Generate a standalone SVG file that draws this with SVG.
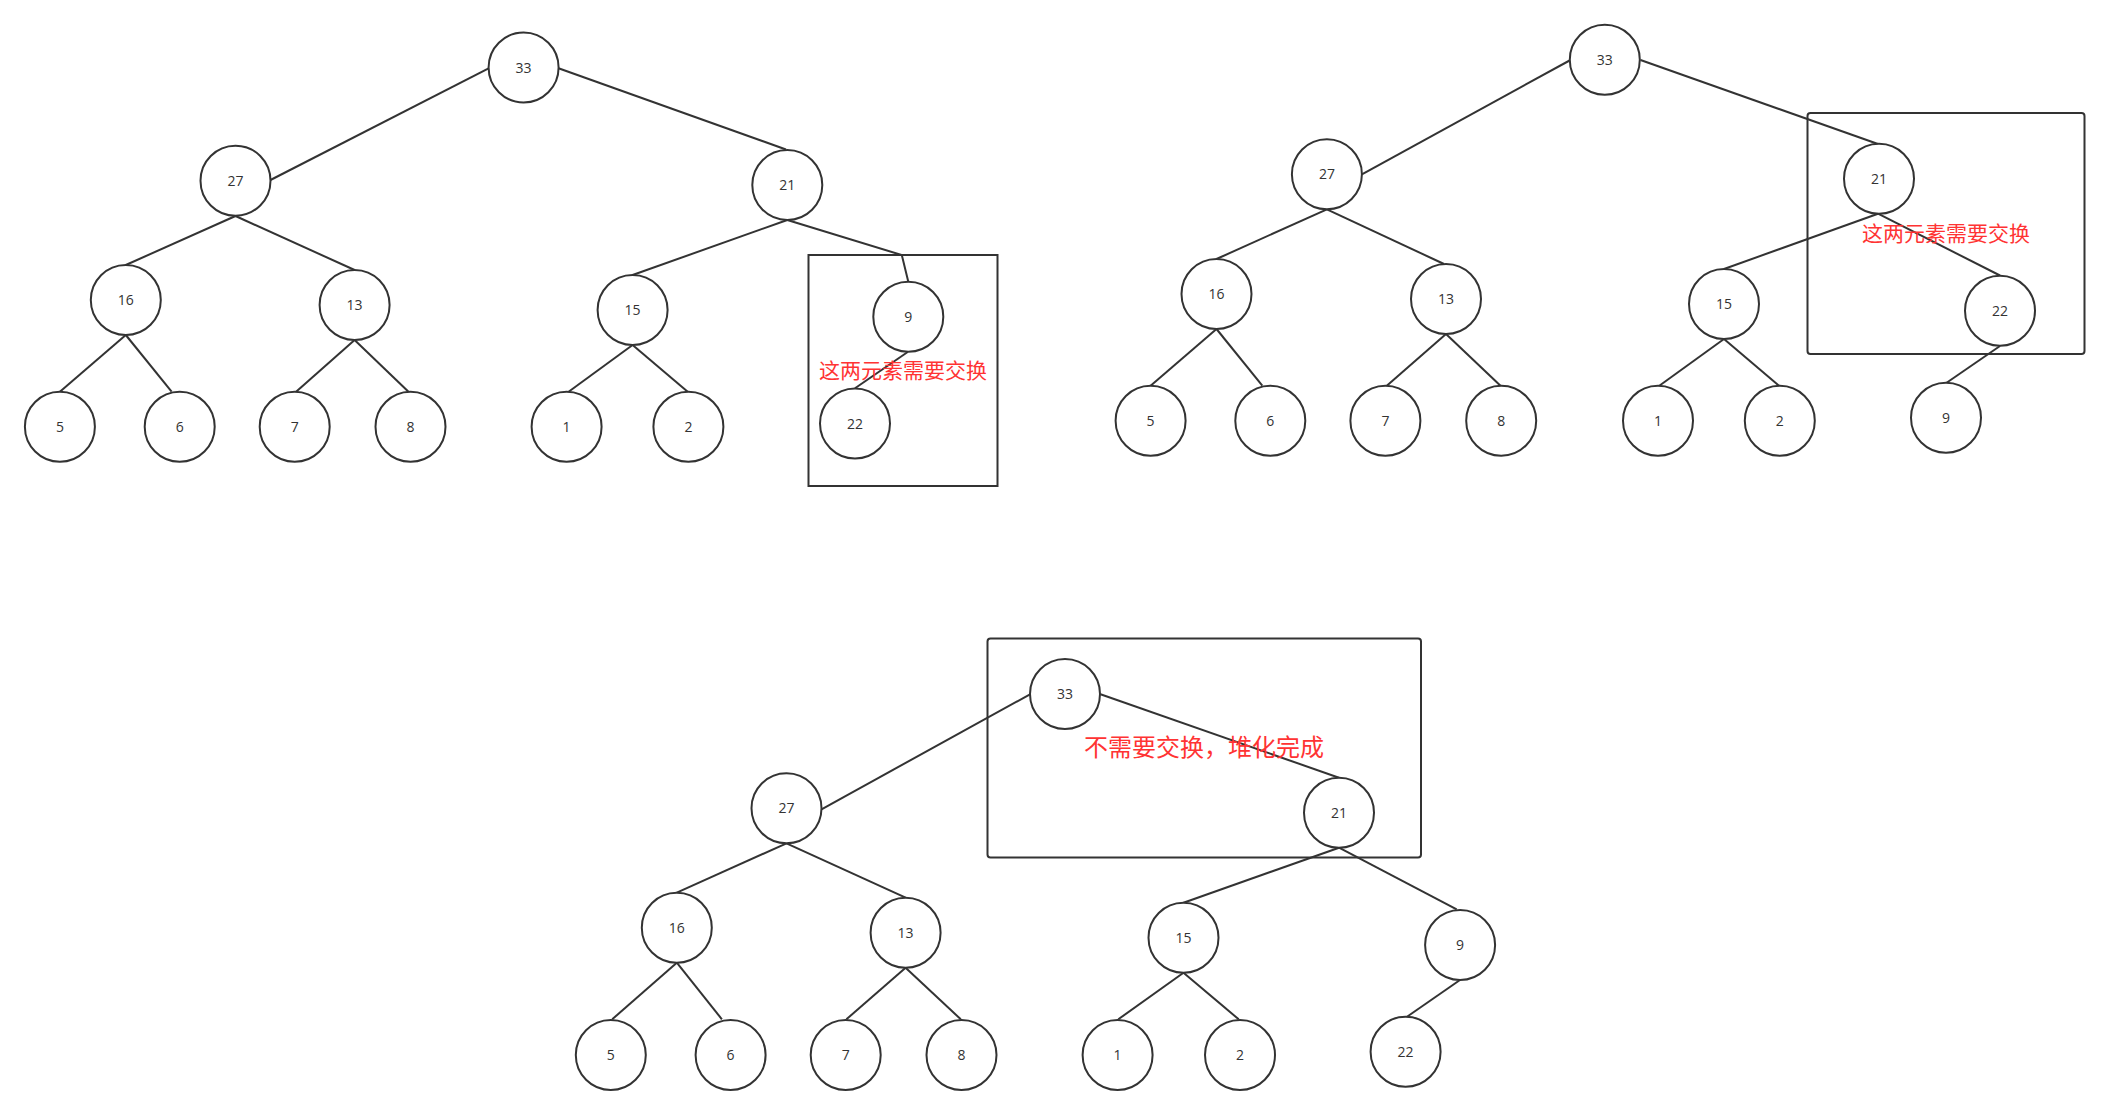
<svg xmlns="http://www.w3.org/2000/svg" width="2110" height="1115" viewBox="0 0 2110 1115">
<style>
.n circle{fill:#fff;stroke:#333;stroke-width:2}
.n text{font-family:"Open Sans","Noto Sans","Liberation Sans",sans-serif;font-size:14px;fill:#333;text-anchor:middle}
.e line,.e polyline{stroke:#333;stroke-width:2;fill:none}
.box{fill:none;stroke:#333;stroke-width:2}
.lbl{font-family:"Noto Sans CJK SC","Noto Sans",sans-serif;fill:#ff3333;text-anchor:middle}
</style>
<rect width="2110" height="1115" fill="#fff"/>
<g id="boxes">
<rect class="box" x="808.5" y="255" width="189" height="231"/>
<rect class="box" x="1807.5" y="113" width="277" height="241" rx="3"/>
<rect class="box" x="987.5" y="638.5" width="433.5" height="219" rx="3"/>
</g>
<g id="connectors" class="e">
<!-- tree 1 -->
<line x1="488.6" y1="68.3" x2="270.5" y2="180"/>
<line x1="558.5" y1="68.3" x2="786" y2="149.5"/>
<line x1="235.5" y1="216" x2="125.8" y2="265"/>
<line x1="235.5" y1="216" x2="354.6" y2="270"/>
<line x1="787.3" y1="220" x2="632.6" y2="275"/>
<polyline points="787.3,220 901.8,255 908.3,281.7"/>
<line x1="907.7" y1="352" x2="855" y2="388.3"/>
<line x1="125.8" y1="335" x2="59.9" y2="391.7"/>
<line x1="125.8" y1="335" x2="171.6" y2="391.7"/>
<line x1="354.6" y1="340" x2="296.1" y2="391.7"/>
<line x1="354.6" y1="340" x2="408.5" y2="391.7"/>
<line x1="632.6" y1="345" x2="568.6" y2="391.7"/>
<line x1="632.6" y1="345" x2="687.7" y2="391.7"/>
<!-- tree 2 -->
<line x1="1570.5" y1="60" x2="1361.9" y2="174.3"/>
<line x1="1640.5" y1="60" x2="1878" y2="144"/>
<line x1="1326.9" y1="209.3" x2="1216.5" y2="259"/>
<line x1="1326.9" y1="209.3" x2="1444" y2="264"/>
<line x1="1878" y1="213.7" x2="1724" y2="269"/>
<line x1="1878" y1="213.7" x2="2000" y2="275.5"/>
<line x1="2000" y1="346" x2="1946.6" y2="382.7"/>
<line x1="1216.5" y1="329" x2="1150.6" y2="385.7"/>
<line x1="1216.5" y1="329" x2="1262.3" y2="385.7"/>
<line x1="1446" y1="334" x2="1386.8" y2="385.7"/>
<line x1="1446" y1="334" x2="1500.5" y2="385.7"/>
<line x1="1724" y1="339" x2="1659.3" y2="385.7"/>
<line x1="1724" y1="339" x2="1779" y2="385.7"/>
<!-- tree 3 -->
<line x1="1030" y1="694.3" x2="821.5" y2="809.3"/>
<line x1="1100.5" y1="694.3" x2="1339" y2="777.7"/>
<line x1="786.5" y1="843.3" x2="676.8" y2="892.7"/>
<line x1="786.5" y1="843.3" x2="905.6" y2="897.7"/>
<line x1="1339" y1="847.7" x2="1183.5" y2="902.7"/>
<line x1="1339" y1="847.7" x2="1456.7" y2="909.3"/>
<line x1="676.8" y1="962.7" x2="612.2" y2="1019.3"/>
<line x1="676.8" y1="962.7" x2="721.9" y2="1019.3"/>
<line x1="905.6" y1="967.7" x2="846.4" y2="1019.3"/>
<line x1="905.6" y1="967.7" x2="960.8" y2="1019.3"/>
<line x1="1183.5" y1="972.7" x2="1118.3" y2="1019.3"/>
<line x1="1183.5" y1="972.7" x2="1238.7" y2="1019.3"/>
<line x1="1460" y1="980" x2="1407" y2="1016.7"/>
</g>
<!-- tree 1 nodes -->
<g id="t1-33" class="n"><circle cx="523.6" cy="67.5" r="35"/><text x="523.6" y="72.5">33</text></g>
<g id="t1-27" class="n"><circle cx="235.5" cy="180.7" r="35"/><text x="235.5" y="185.7">27</text></g>
<g id="t1-21" class="n"><circle cx="787.3" cy="185" r="35"/><text x="787.3" y="190">21</text></g>
<g id="t1-16" class="n"><circle cx="125.8" cy="300" r="35"/><text x="125.8" y="305">16</text></g>
<g id="t1-13" class="n"><circle cx="354.6" cy="305" r="35"/><text x="354.6" y="310">13</text></g>
<g id="t1-15" class="n"><circle cx="632.6" cy="310" r="35"/><text x="632.6" y="315">15</text></g>
<g id="t1-9" class="n"><circle cx="908.3" cy="316.7" r="35"/><text x="908.3" y="321.7">9</text></g>
<g id="t1-5" class="n"><circle cx="59.9" cy="426.7" r="35"/><text x="59.9" y="431.7">5</text></g>
<g id="t1-6" class="n"><circle cx="179.7" cy="426.7" r="35"/><text x="179.7" y="431.7">6</text></g>
<g id="t1-7" class="n"><circle cx="294.7" cy="426.7" r="35"/><text x="294.7" y="431.7">7</text></g>
<g id="t1-8" class="n"><circle cx="410.5" cy="426.7" r="35"/><text x="410.5" y="431.7">8</text></g>
<g id="t1-1" class="n"><circle cx="566.6" cy="426.7" r="35"/><text x="566.6" y="431.7">1</text></g>
<g id="t1-2" class="n"><circle cx="688.4" cy="426.7" r="35"/><text x="688.4" y="431.7">2</text></g>
<g id="t1-22" class="n"><circle cx="855" cy="423.5" r="35"/><text x="855" y="428.5">22</text></g>
<!-- tree 2 nodes -->
<g id="t2-33" class="n"><circle cx="1604.8" cy="59.7" r="35"/><text x="1604.8" y="64.7">33</text></g>
<g id="t2-27" class="n"><circle cx="1326.9" cy="174.3" r="35"/><text x="1326.9" y="179.3">27</text></g>
<g id="t2-21" class="n"><circle cx="1879" cy="178.7" r="35"/><text x="1879" y="183.7">21</text></g>
<g id="t2-16" class="n"><circle cx="1216.5" cy="294" r="35"/><text x="1216.5" y="299">16</text></g>
<g id="t2-13" class="n"><circle cx="1446" cy="299" r="35"/><text x="1446" y="304">13</text></g>
<g id="t2-15" class="n"><circle cx="1724" cy="304" r="35"/><text x="1724" y="309">15</text></g>
<g id="t2-22" class="n"><circle cx="2000" cy="310.7" r="35"/><text x="2000" y="315.7">22</text></g>
<g id="t2-5" class="n"><circle cx="1150.6" cy="420.7" r="35"/><text x="1150.6" y="425.7">5</text></g>
<g id="t2-6" class="n"><circle cx="1270.3" cy="420.7" r="35"/><text x="1270.3" y="425.7">6</text></g>
<g id="t2-7" class="n"><circle cx="1385.4" cy="420.7" r="35"/><text x="1385.4" y="425.7">7</text></g>
<g id="t2-8" class="n"><circle cx="1501.2" cy="420.7" r="35"/><text x="1501.2" y="425.7">8</text></g>
<g id="t2-1" class="n"><circle cx="1658" cy="420.7" r="35"/><text x="1658" y="425.7">1</text></g>
<g id="t2-2" class="n"><circle cx="1779.8" cy="420.7" r="35"/><text x="1779.8" y="425.7">2</text></g>
<g id="t2-9" class="n"><circle cx="1946" cy="417.7" r="35"/><text x="1946" y="422.7">9</text></g>
<!-- tree 3 nodes -->
<g id="t3-33" class="n"><circle cx="1065" cy="694" r="35"/><text x="1065" y="699">33</text></g>
<g id="t3-27" class="n"><circle cx="786.5" cy="808.3" r="35"/><text x="786.5" y="813.3">27</text></g>
<g id="t3-21" class="n"><circle cx="1339" cy="812.7" r="35"/><text x="1339" y="817.7">21</text></g>
<g id="t3-16" class="n"><circle cx="676.8" cy="927.7" r="35"/><text x="676.8" y="932.7">16</text></g>
<g id="t3-13" class="n"><circle cx="905.6" cy="932.7" r="35"/><text x="905.6" y="937.7">13</text></g>
<g id="t3-15" class="n"><circle cx="1183.5" cy="937.7" r="35"/><text x="1183.5" y="942.7">15</text></g>
<g id="t3-9" class="n"><circle cx="1460.1" cy="945" r="35"/><text x="1460.1" y="950">9</text></g>
<g id="t3-5" class="n"><circle cx="610.8" cy="1055" r="35"/><text x="610.8" y="1060">5</text></g>
<g id="t3-6" class="n"><circle cx="730.6" cy="1055" r="35"/><text x="730.6" y="1060">6</text></g>
<g id="t3-7" class="n"><circle cx="845.7" cy="1055" r="35"/><text x="845.7" y="1060">7</text></g>
<g id="t3-8" class="n"><circle cx="961.5" cy="1055" r="35"/><text x="961.5" y="1060">8</text></g>
<g id="t3-1" class="n"><circle cx="1117.6" cy="1055" r="35"/><text x="1117.6" y="1060">1</text></g>
<g id="t3-2" class="n"><circle cx="1240" cy="1055" r="35"/><text x="1240" y="1060">2</text></g>
<g id="t3-22" class="n"><circle cx="1405.6" cy="1051.7" r="35"/><text x="1405.6" y="1056.7">22</text></g>
<g id="labels">
<text class="lbl" x="903" y="378" font-size="21">这两元素需要交换</text>
<text class="lbl" x="1946" y="241" font-size="21">这两元素需要交换</text>
<text class="lbl" x="1204" y="756" font-size="24">不需要交换，堆化完成</text>
</g>
</svg>
